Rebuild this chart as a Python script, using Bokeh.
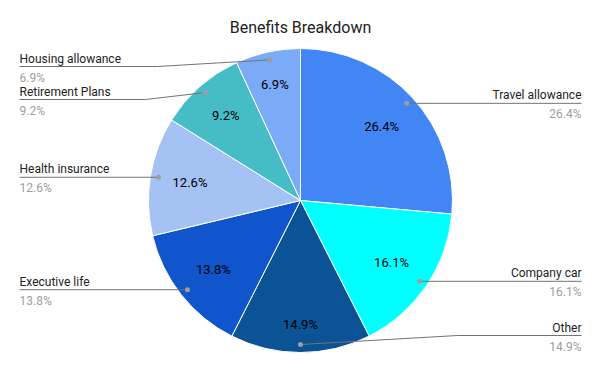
import math
from bokeh.plotting import figure
from bokeh.models import Range1d, ColumnDataSource
from bokeh.core.properties import value
from bokeh.embed import file_html
from bokeh.resources import INLINE

# ---- data ----
title = "Benefits Breakdown"
categories = ["Travel allowance", "Company car", "Other", "Executive life",
              "Health insurance", "Retirement Plans", "Housing allowance"]
shares = [26.4, 16.1, 14.9, 13.8, 12.6, 9.2, 6.9]
colors = ["#4285F4", "#00FFFF", "#0B5394", "#1155CC", "#A4C2F4", "#46BDC6", "#7BAAF7"]

# ---- layout (reference pixel coords, y downward) ----
W, H = 600, 371
CX, CY, R = 300, 200, 152
inner_r = [110, 110, 124, 111, 112, 113, 119]
dot_r = 144
label_side = ["right", "right", "right", "left", "left", "left", "left"]
label_line_y = [None, None, 335, None, None, 99, 66]
elbow_x = [None, None, 457, None, None, 145, 157]
LEFT_X, RIGHT_X = 19, 581
FONT = "Roboto"


def Y(y):
    return H - y


total = sum(shares)
starts, ends, mids = [], [], []
cum = 0.0
for s in shares:
    f0 = cum / total
    cum += s
    f1 = cum / total
    starts.append(math.pi / 2 - 2 * math.pi * f0)
    ends.append(math.pi / 2 - 2 * math.pi * f1)
    mids.append((f0 + f1) / 2 * 2 * math.pi)  # clockwise from top

pct = ["%.1f%%" % s for s in shares]

p = figure(width=584, height=355, x_range=Range1d(0, 584), y_range=Range1d(H - 355, H),
           x_axis_type=None, y_axis_type=None, toolbar_location=None,
           output_backend="svg", min_border=0, outline_line_color=None,
           background_fill_color="white", border_fill_color="white")
p.xgrid.visible = False
p.ygrid.visible = False

src = ColumnDataSource(dict(start=starts, end=ends, color=colors))
p.wedge(x=CX, y=Y(CY), radius=R, start_angle="start", end_angle="end",
        direction="clock", fill_color="color", line_color="white", line_width=1,
        source=src)

# inner percentage labels
ix = [CX + r * math.sin(a) for r, a in zip(inner_r, mids)]
iy = [Y(CY - r * math.cos(a)) for r, a in zip(inner_r, mids)]
p.text(x=ix, y=iy, text=pct, text_align="center", text_baseline="middle",
       text_font=value(FONT), text_font_size="13px", text_color="#000000")

# leader lines, dots and outer labels
xs, ys = [], []
dx, dy = [], []
name_x, name_y, name_t, name_align = [], [], [], []
pc_x, pc_y = [], []
for i, a in enumerate(mids):
    px = CX + dot_r * math.sin(a)
    py = CY - dot_r * math.cos(a)
    dx.append(px)
    dy.append(Y(py))
    ly = label_line_y[i] if label_line_y[i] is not None else py
    endx = RIGHT_X if label_side[i] == "right" else LEFT_X
    if elbow_x[i] is not None:
        lx = [px, elbow_x[i], endx]
        lyy = [Y(py), Y(ly), Y(ly)]
    else:
        lx = [px, endx]
        lyy = [Y(py), Y(ly)]
    xs.append(lx)
    ys.append(lyy)
    name_x.append(endx)
    name_y.append(Y(ly - 8))
    pc_x.append(endx)
    pc_y.append(Y(ly + 11))
    name_t.append(categories[i])
    name_align.append("right" if label_side[i] == "right" else "left")

p.multi_line(xs=xs, ys=ys, line_color="#737373", line_width=1)
p.scatter(x=dx, y=dy, size=5, fill_color="#9E9E9E", line_color=None)

lsrc = ColumnDataSource(dict(x=name_x, y=name_y, t=name_t, a=name_align,
                             py=pc_y, pt=pct))
p.text(x="x", y="y", text="t", text_align="a", text_baseline="alphabetic",
       text_font=value(FONT), text_font_size="12px", text_color="#222222", source=lsrc)
p.text(x="x", y="py", text="pt", text_align="a", text_baseline="alphabetic",
       text_font=value(FONT), text_font_size="12px", text_color="#9E9E9E", source=lsrc)

# title
p.text(x=[300], y=[Y(27)], text=[title], text_align="center", text_baseline="alphabetic",
       text_font=value(FONT), text_font_size="16px", text_color="#222222")

open("out.html", "w").write(file_html(p, INLINE))
